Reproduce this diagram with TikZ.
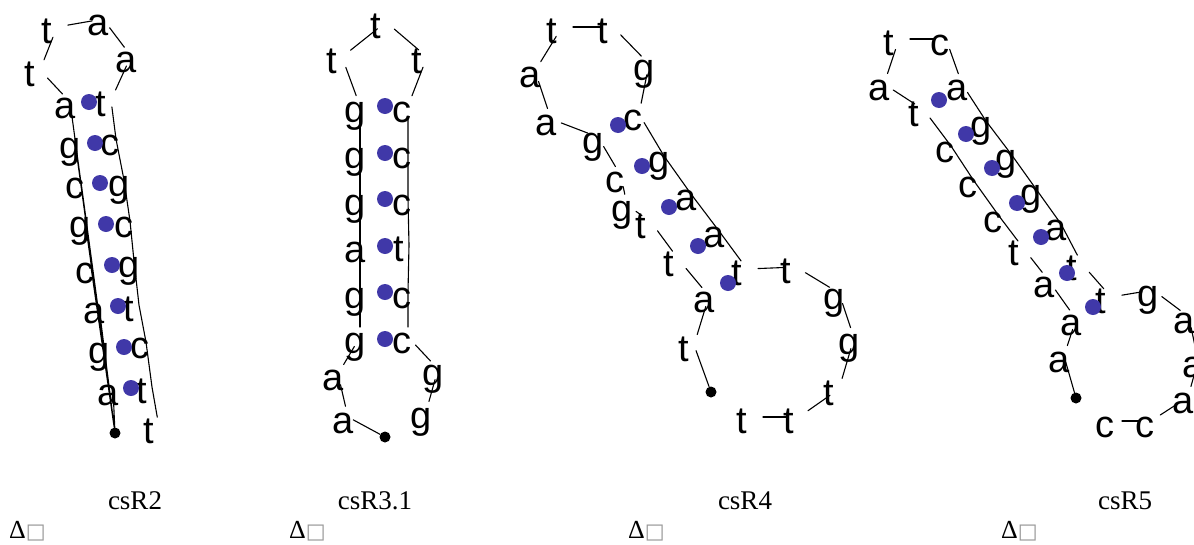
\documentclass[tikz,border=0pt]{standalone}
\usepackage{fontspec}
\setmainfont{Liberation Serif}
\newfontfamily\basefont{Liberation Sans}
\newfontfamily\symfont{DejaVu Sans}
\definecolor{pairblue}{RGB}{64,56,168}
\definecolor{boxgray}{RGB}{150,150,150}
\begin{document}
\begin{tikzpicture}[x=1pt, y=-1pt, line join=round, line cap=round,
	nt/.style={font=\basefont\fontsize{38}{38}\selectfont, inner sep=0pt, text width=32pt, align=left, text height=33pt, text depth=0pt},
	bp/.style={circle, fill=pairblue, inner sep=0pt, minimum size=16pt},
	endpt/.style={circle, fill=black, inner sep=0pt, minimum size=11pt},
	bb/.style={line width=1.1pt, shorten <=11pt, shorten >=11pt},
	sb/.style={line width=1.1pt, shorten <=10pt, shorten >=10pt},
	tl/.style={line width=1.1pt, shorten <=6pt},
	lbl/.style={font=\fontsize{27}{27}\selectfont, anchor=base},
	dlt/.style={font=\fontsize{26}{26}\selectfont, anchor=base west, inner sep=0pt}]
			\useasboundingbox (0,0) rectangle (1194,544);
			%
			% csR2
			\foreach \n/\x/\y/\s in {1/113/389/a, 2/104/347/g, 3/99/307/a, 4/91/267/c, 5/85/221/g, 6/81/182/c, 7/75/142/g, 8/70/102/a, 9/40/70/t, 10/57/27/t, 11/103/19/a, 12/131/56/a, 13/111/100/t, 14/116/139/c, 15/124/180/g, 16/130/221/c, 17/134/261/g, 18/139/305/t, 19/146/342/c, 20/152/387/t, 21/159/427/t}
				\node[nt] (r2-\n) at (\x,\y) {\s};
			\foreach \x/\y [count=\k] in {89/102, 95/143, 100/183, 106/224, 112/265, 118/306, 124/347, 131/388}
				\node[bp] (r2-p\k) at (\x,\y) {};
			\node[endpt] (r2-0) at (115,433) {};
			\draw[sb, shorten <=0pt, shorten >=15pt] (r2-0) \foreach \k in {1,...,8} {-- (r2-\k.center)};
			\foreach \i/\j in {8/9, 9/10, 10/11, 11/12, 12/13}
				\draw[bb] (r2-\i.center) -- (r2-\j.center);
			\draw[sb, shorten <=7pt] (r2-13.center) \foreach \k in {14,...,21} {-- (r2-\k.center)};
			%
			% csR3.1
			\foreach \n/\x/\y/\s in {1/348/417/a, 2/338/374/a, 3/360/337/g, 4/360/292/g, 5/360/246/a, 6/360/199/g, 7/360/152/g, 8/360/106/g, 9/342/57/t, 10/386/22/t, 11/427/57/t, 12/408/106/c, 13/408/152/c, 14/408/199/c, 15/409/245/t, 16/408/292/c, 17/408/337/c, 18/438/369/g, 19/426/412/g}
				\node[nt] (r3-\n) at (\x,\y) {\s};
			\foreach \y [count=\k] in {106, 153, 199, 246, 292, 339}
				\node[bp] (r3-p\k) at (385,\y) {};
			\node[endpt] (r3-0) at (385,437) {};
			\draw[tl] (r3-1.center) -- (r3-0);
			\foreach \i/\j in {1/2, 2/3, 8/9, 9/10, 10/11, 11/12, 17/18, 18/19}
				\draw[bb] (r3-\i.center) -- (r3-\j.center);
			\draw[sb] (r3-3.center) \foreach \k in {4,...,8} {-- (r3-\k.center)};
			\draw[sb] (r3-12.center) \foreach \k in {13,...,17} {-- (r3-\k.center)};
			%
			% csR4
			\foreach \n/\x/\y/\s in {1/694/345/t, 2/709/296/a, 3/679/260/t, 4/651/222/t, 5/627/205/g, 6/621/176/c, 7/598/137/g, 8/551/119/a, 9/535/71/a, 10/562/27/t, 11/613/27/t, 12/649/64/g, 13/639/114/c, 14/664/156/g, 15/691/194/a, 16/719/231/a, 17/747/269/t, 18/796/267/t, 19/839/293/g, 20/854/338/g, 21/839/389/t, 22/799/417/t, 23/752/417/t}
				\node[nt] (r4-\n) at (\x,\y) {\s};
			\foreach \x/\y [count=\k] in {618/125, 642/166, 669/207, 698/246, 728/283}
				\node[bp] (r4-p\k) at (\x,\y) {};
			\node[endpt] (r4-0) at (711,392) {};
			\draw[tl] (r4-1.center) -- (r4-0);
			\foreach \i [evaluate=\i as \j using int(\i+1)] in {1,...,12,17,18,19,20,21,22}
				\draw[bb] (r4-\i.center) -- (r4-\j.center);
			\draw[sb] (r4-13.center) \foreach \k in {14,...,17} {-- (r4-\k.center)};
			%
			% csR5
			\foreach \n/\x/\y/\s in {1/1064/356/a, 2/1076/319/a, 3/1049/281/a, 4/1024/249/t, 5/999/216/c, 6/974/181/c, 7/951/146/c, 8/924/110/t, 9/884/84/a, 10/899/39/t, 11/946/39/c, 12/962/84/a, 13/986/121/g, 14/1011/154/g, 15/1036/189/g, 16/1061/224/a, 17/1082/264/t, 18/1111/297/t, 19/1153/290/g, 20/1189/317/a, 21/1198/361/a, 22/1188/397/a, 23/1151/421/c, 24/1111/421/c}
				\node[nt] (r5-\n) at (\x,\y) {\s};
			\foreach \x/\y [count=\k] in {939/100, 966/134, 992/168, 1017/203, 1041/237, 1067/273, 1093/307}
				\node[bp] (r5-p\k) at (\x,\y) {};
			\node[endpt] (r5-0) at (1076,398) {};
			\draw[tl] (r5-1.center) -- (r5-0);
			\foreach \i/\j in {1/2, 2/3, 3/4, 8/9, 9/10, 10/11, 11/12, 17/18, 18/19, 19/20, 20/21, 21/22, 22/23, 23/24}
				\draw[bb] (r5-\i.center) -- (r5-\j.center);
			\draw[sb] (r5-4.center) \foreach \k in {5,...,8} {-- (r5-\k.center)};
			\draw[sb] (r5-12.center) \foreach \k in {13,...,17} {-- (r5-\k.center)};
			%
			\foreach \x/\t [count=\k] in {135/csR2, 375/csR3.1, 745/csR4, 1125/csR5}
				\node[lbl] (name\k) at (\x,509) {\t};
			\foreach \x [count=\k] in {9, 289, 628, 1001}
				\node[dlt] (delta\k) at (\x,538) {Δ{\symfont\fontsize{21}{21}\selectfont\textcolor{boxgray}{□}}};
\end{tikzpicture}
\end{document}
